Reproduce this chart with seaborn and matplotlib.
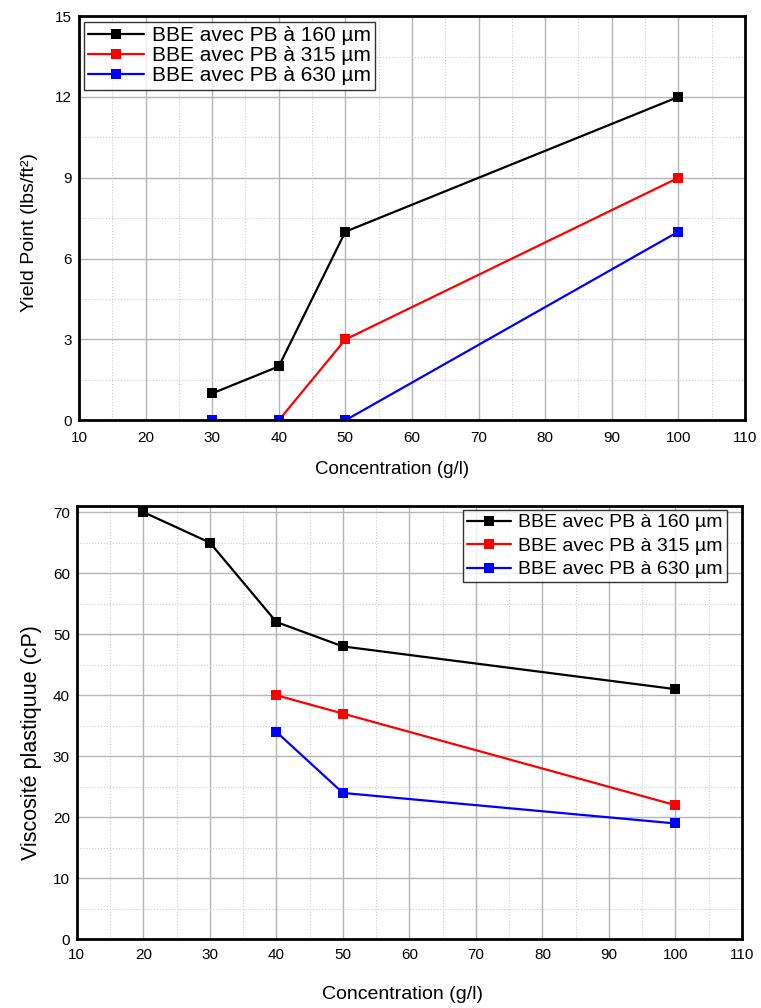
import matplotlib
matplotlib.use("Agg")
import matplotlib.pyplot as plt
import seaborn as sns
import pandas as pd
from matplotlib.ticker import MultipleLocator

sns.set_style("white")
plt.rcParams['font.family'] = ['Liberation Sans', 'DejaVu Sans']
plt.rcParams['text.color'] = 'black'
plt.rcParams['axes.labelcolor'] = 'black'
plt.rcParams['xtick.color'] = 'black'
plt.rcParams['ytick.color'] = 'black'

series = ["BBE avec PB à 160 µm", "BBE avec PB à 315 µm", "BBE avec PB à 630 µm"]
colors = ["#000000", "#ff0000", "#0000ff"]

# Top chart: Yield Point
yp_x_160 = [30, 40, 50, 100]
yp_y_160 = [1, 2, 7, 12]
yp_x_315 = [40, 50, 100]
yp_y_315 = [0, 3, 9]
yp_x_630 = [30, 40, 50, 100]
yp_y_630 = [0, 0, 0, 7]

# Bottom chart: plastic viscosity
pv_x_160 = [20, 30, 40, 50, 100]
pv_y_160 = [70, 65, 52, 48, 41]
pv_x_315 = [40, 50, 100]
pv_y_315 = [40, 37, 22]
pv_x_630 = [40, 50, 100]
pv_y_630 = [34, 24, 19]

def build(xs, ys):
    rows = []
    for name, x, y in zip(series, xs, ys):
        for a, b in zip(x, y):
            rows.append({"x": a, "y": b, "s": name})
    return pd.DataFrame(rows)

df_top = build([yp_x_160, yp_x_315, yp_x_630], [yp_y_160, yp_y_315, yp_y_630])
df_bot = build([pv_x_160, pv_x_315, pv_x_630], [pv_y_160, pv_y_315, pv_y_630])

fig = plt.figure(figsize=(7.61, 10.08), dpi=100)
ax1 = fig.add_axes([0.1038, 0.583, 0.875, 0.401])
ax2 = fig.add_axes([0.101, 0.068, 0.874, 0.430])

def style(ax, ymax, ystep, ylabel, xpad, ylab_fs, xlab_fs, ylab_pos, xlab_pos,
          leg_loc, leg_anchor, leg_fs, handlelen, labelsp):
    ax.set_xlim(10, 110)
    ax.set_ylim(0, ymax)
    ax.xaxis.set_major_locator(MultipleLocator(10))
    ax.xaxis.set_minor_locator(MultipleLocator(5))
    ax.yaxis.set_major_locator(MultipleLocator(ystep))
    ax.yaxis.set_minor_locator(MultipleLocator(ystep / 2))
    ax.grid(which="major", color="#b4b4b4", linewidth=1.0, linestyle="-")
    ax.grid(which="minor", color="#cccccc", linewidth=0.8, linestyle=":")
    ax.set_axisbelow(True)
    for sp in ax.spines.values():
        sp.set_color("black")
        sp.set_linewidth(2.0)
    ax.tick_params(which="both", length=0, labelsize=11)
    ax.tick_params(axis="x", pad=xpad)
    ax.tick_params(axis="y", pad=5)
    ax.set_xlabel("Concentration (g/l)", fontsize=xlab_fs)
    ax.set_ylabel(ylabel, fontsize=ylab_fs)
    ax.yaxis.set_label_coords(*ylab_pos)
    ax.xaxis.set_label_coords(*xlab_pos)
    leg = ax.legend(loc=leg_loc, bbox_to_anchor=leg_anchor, fontsize=leg_fs, frameon=True,
                    fancybox=False, edgecolor="black", borderpad=0.2, labelspacing=labelsp,
                    handlelength=handlelen, handletextpad=0.35, borderaxespad=0)
    leg.get_frame().set_linewidth(1.0)

sns.lineplot(data=df_top, x="x", y="y", hue="s", palette=colors, marker="s",
             markersize=7.5, markeredgewidth=0, linewidth=1.6, ax=ax1, sort=False)
style(ax1, 15, 3, "Yield Point (lbs/ft²)", 7.5, 14, 13.5, (-0.062, 0.465), (0.47, -0.101),
      "upper left", (0.0075, 0.985), 15, 2.7, 0.05)

sns.lineplot(data=df_bot, x="x", y="y", hue="s", palette=colors, marker="s",
             markersize=7.5, markeredgewidth=0, linewidth=1.6, ax=ax2, sort=False)
style(ax2, 71, 10, "Viscosité plastiquue (cP)", 6, 15.5, 14, (-0.052, 0.455), (0.49, -0.108),
      "upper right", (0.977, 0.991), 14, 2.3, 0.3)

fig.savefig("out.png", dpi=100)
